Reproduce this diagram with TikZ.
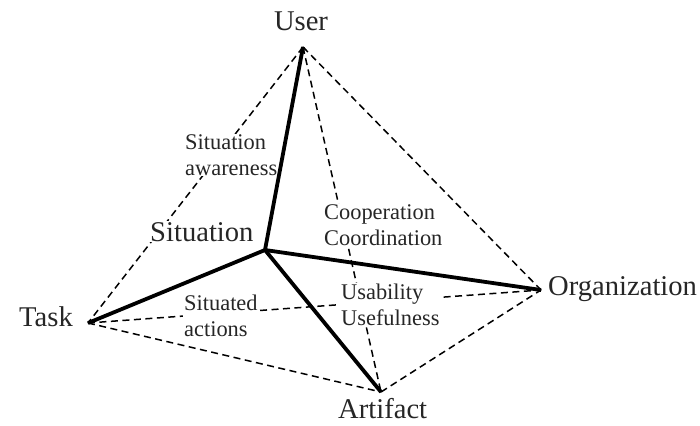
\documentclass[tikz,border=0pt]{standalone}
\usepackage{fontspec}
\setmainfont{Liberation Serif}
\begin{document}
\begin{tikzpicture}[x=1pt,y=-1pt,
  thickline/.style={line width=3.8pt},
  dashline/.style={line width=1.5pt, dash pattern=on 7pt off 4.5pt},
  biglabel/.style={font=\fontsize{28.6}{30}\selectfont, text=black!85, fill=white, inner sep=1pt, anchor=base west},
  smalllabel/.style={font=\fontsize{22.4}{25.5}\selectfont, text=black!85, fill=white, inner sep=1pt, align=left, anchor=west}]
\useasboundingbox (0,0) rectangle (700,425);
\coordinate (U) at (303,47);
\coordinate (T) at (88,323);
\coordinate (O) at (541,290);
\coordinate (A) at (381,392);
\coordinate (C) at (265,250);
% dashed edges of the tetrahedron
\draw[dashline] (U) -- (T);
\draw[dashline] (U) -- (O);
\draw[dashline] (U) -- (A);
\draw[dashline] (T) -- (O);
\draw[dashline] (T) -- (A);
\draw[dashline] (A) -- (O);
% labels
\node[biglabel, anchor=base] (user) at (301,31) {User};
\node[biglabel] (situation) at (149,241) {Situation};
\node[biglabel] (task) at (18,326) {Task};
\node[biglabel] (org) at (547,295) {Organization};
\node[biglabel] (artifact) at (337,418) {Artifact};
\node[smalllabel] (sa) at (184,155) {Situation\\awareness};
\node[smalllabel] (cc) at (323,225) {Cooperation\\Coordination};
\node[smalllabel] (uu) at (340,305) {Usability\\Usefulness};
\node[smalllabel] (sact) at (183,316) {Situated\\actions};
% thick spokes
\draw[thickline] (C) -- (U);
\draw[thickline] (C) -- (T);
\draw[thickline] (C) -- (O);
\draw[thickline] (C) -- (A);
\end{tikzpicture}
\end{document}
